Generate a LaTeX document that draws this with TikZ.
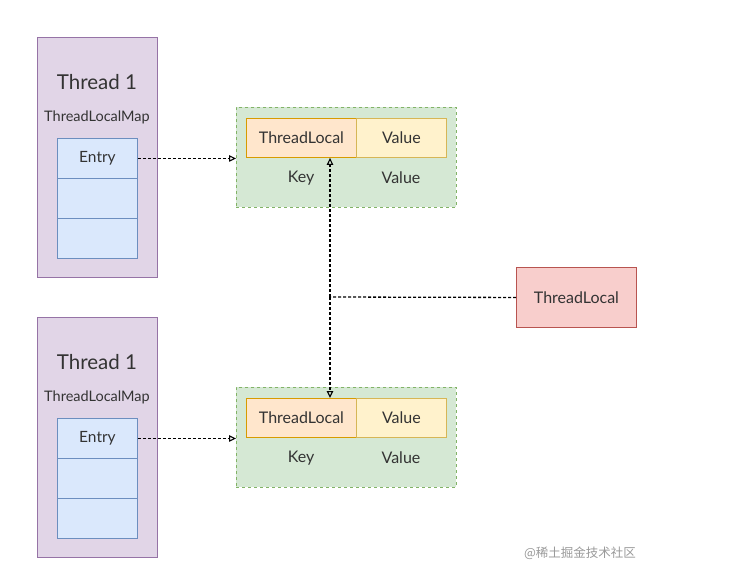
\documentclass[tikz,border=0pt]{standalone}
\usepackage{fontspec}
\setmainfont{Lato}
\newfontfamily\cjk{Noto Sans CJK SC}
\usetikzlibrary{arrows.meta}
\definecolor{thfill}{HTML}{E1D5E7}
\definecolor{thdraw}{HTML}{9673A6}
\definecolor{enfill}{HTML}{DAE8FC}
\definecolor{endraw}{HTML}{6C8EBF}
\definecolor{grfill}{HTML}{D5E8D4}
\definecolor{grdraw}{HTML}{82B366}
\definecolor{orfill}{HTML}{FFE6CC}
\definecolor{ordraw}{HTML}{D79B00}
\definecolor{yefill}{HTML}{FFF2CC}
\definecolor{yedraw}{HTML}{D6B656}
\definecolor{rdfill}{HTML}{F8CECC}
\definecolor{rddraw}{HTML}{B85450}
\definecolor{txt}{HTML}{333333}
\begin{document}
\begin{tikzpicture}[x=1pt,y=-1pt,
  box/.style={draw, line width=0.9pt, inner sep=0pt, anchor=north west, text=txt},
  thread/.style={box, fill=thfill, draw=thdraw, minimum width=120pt, minimum height=240pt},
  entry/.style={box, fill=enfill, draw=endraw, minimum width=80pt, minimum height=40pt, font=\fontsize{15.5}{17}\selectfont},
  grp/.style={box, fill=grfill, draw=grdraw, dashed, minimum width=220pt, minimum height=100pt},
  keycell/.style={box, fill=orfill, draw=ordraw, minimum width=110pt, minimum height=39pt, font=\fontsize{16}{18}\selectfont},
  valcell/.style={box, fill=yefill, draw=yedraw, minimum width=90pt, minimum height=39pt, font=\fontsize{16}{18}\selectfont},
  lbl/.style={text=txt, inner sep=0pt},
  fieldlbl/.style={lbl, font=\fontsize{16}{18}\selectfont},
  conn/.style={draw=black, line width=1.3pt, dash pattern=on 3pt off 2pt},
  arr/.style={conn, -{Triangle[open,length=7pt,width=6.5pt,line width=1.1pt,sep=0pt]}}
]
\useasboundingbox (0,0) rectangle (743,587);
% Thread 1 (top)
\node[thread] (t1) at (37,37) {};
\node[lbl, font=\fontsize{20.5}{22}\selectfont] (t1n) at (97,82) {Thread 1};
\node[lbl, font=\fontsize{14.5}{16}\selectfont] (t1m) at (97,117) {ThreadLocalMap};
\node[entry] (e1a) at (57,138) {Entry};
\node[entry] (e1b) at (57,178) {};
\node[entry] (e1c) at (57,218) {};
% Thread 1 (bottom)
\node[thread] (t2) at (37,317) {};
\node[lbl, font=\fontsize{20.5}{22}\selectfont] (t2n) at (97,362) {Thread 1};
\node[lbl, font=\fontsize{14.5}{16}\selectfont] (t2m) at (97,397) {ThreadLocalMap};
\node[entry] (e2a) at (57,418) {Entry};
\node[entry] (e2b) at (57,458) {};
\node[entry] (e2c) at (57,498) {};
% green groups
\node[grp] (g1) at (236,107) {};
\node[keycell] (k1) at (246,118) {ThreadLocal};
\node[valcell] (v1) at (356,118) {Value};
\node[fieldlbl] (k1l) at (301,178) {Key};
\node[fieldlbl] (v1l) at (401,178) {Value};
\node[grp] (g2) at (236,387) {};
\node[keycell] (k2) at (246,398) {ThreadLocal};
\node[valcell] (v2) at (356,398) {Value};
\node[fieldlbl] (k2l) at (301,458) {Key};
\node[fieldlbl] (v2l) at (401,458) {Value};
% ThreadLocal red
\node[box, fill=rdfill, draw=rddraw, minimum width=120pt, minimum height=60pt, font=\fontsize{16}{18}\selectfont] (tl) at (516,267) {ThreadLocal};
% connectors
\coordinate (j) at (330,297);
\draw[arr] (e1a.east) -- (g1.west |- e1a.east);
\draw[arr] (e2a.east) -- (g2.west |- e2a.east);
\draw[conn] (tl.west) -- (j);
\draw[arr] (j) -- (j |- k1.south);
\draw[arr] (j) -- (j |- k2.north);
% watermark
\node[inner sep=0pt, text=black!40, font=\cjk\fontsize{12.5}{14}\selectfont] (wm) at (580,553) {@稀土掘金技术社区};
\end{tikzpicture}
\end{document}
